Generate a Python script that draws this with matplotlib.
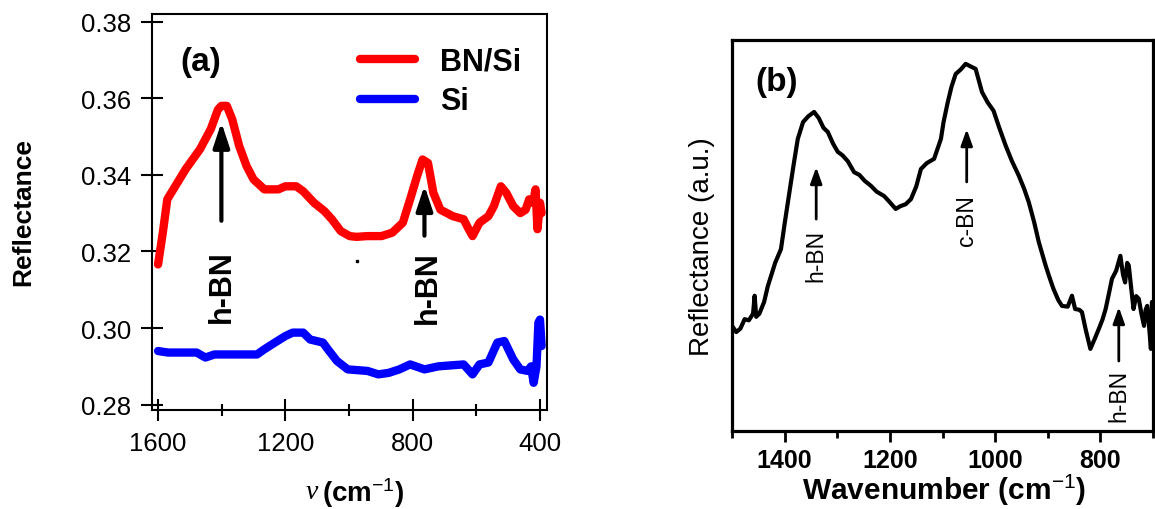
import matplotlib
matplotlib.use('Agg')
import matplotlib.pyplot as plt
from matplotlib.ticker import FixedLocator

plt.rcParams['font.family'] = ['Liberation Sans', 'DejaVu Sans']
plt.rcParams['mathtext.fontset'] = 'custom'
plt.rcParams['mathtext.rm'] = 'Liberation Sans'
plt.rcParams['mathtext.bf'] = 'Liberation Sans:bold'
plt.rcParams['mathtext.it'] = 'Liberation Sans:italic'

# ---------------- data panel (a) ----------------
bnsi_x = [1600, 1585, 1571, 1546, 1513, 1468, 1434, 1412, 1401, 1384, 1367, 1345,
          1322, 1300, 1266, 1222, 1200, 1166, 1144, 1110, 1077, 1054, 1026, 998,
          976, 942, 898, 864, 831, 808, 786, 769, 752, 735, 713, 674, 640, 629,
          612, 590, 562, 545, 523, 506, 484, 462, 445, 434, 422, 414, 408, 400, 395]
bnsi_y = [0.3166, 0.3249, 0.3336, 0.3370, 0.3415, 0.3467, 0.3520, 0.3570, 0.3580,
          0.3580, 0.3545, 0.3475, 0.3423, 0.3388, 0.3362, 0.3362, 0.3370, 0.3370,
          0.3357, 0.3327, 0.3305, 0.3284, 0.3253, 0.3240, 0.3238, 0.3240, 0.3240,
          0.3249, 0.3275, 0.3336, 0.3397, 0.3440, 0.3431, 0.3353, 0.3309, 0.3292,
          0.3284, 0.3266, 0.3240, 0.3275, 0.3292, 0.3318, 0.3370, 0.3353, 0.3318,
          0.3300, 0.3309, 0.3336, 0.3327, 0.3362, 0.3258, 0.3327, 0.3300]

si_x = [1600, 1569, 1479, 1451, 1423, 1289, 1267, 1233, 1200, 1177, 1144, 1122,
        1082, 1066, 1038, 1004, 942, 908, 875, 842, 808, 763, 719, 640, 612, 590,
        562, 534, 512, 484, 462, 439, 428, 420, 411, 405, 400, 395]
si_y = [0.2940, 0.2936, 0.2936, 0.2923, 0.2931, 0.2931, 0.2944, 0.2962, 0.2979,
        0.2988, 0.2988, 0.2970, 0.2962, 0.2944, 0.2914, 0.2892, 0.2888, 0.2879,
        0.2883, 0.2892, 0.2905, 0.2892, 0.2900, 0.2905, 0.2879, 0.2905, 0.2910,
        0.2962, 0.2966, 0.2918, 0.2892, 0.2888, 0.2900, 0.2857, 0.2900, 0.3014,
        0.3022, 0.2953]

stray_x = [976]
stray_y = [0.3175]

a_xticks = [1600, 1200, 800, 400]
a_xminor = [1400, 1000, 600]
a_yticks = [0.28, 0.30, 0.32, 0.34, 0.36, 0.38]
a_arrow_x = [1401, 763]
a_arrow_tail = [0.3280, 0.3241]
a_arrow_tip = [0.3537, 0.3372]
a_label_y = [0.3111, 0.3107]
a_label_x = [1401, 752]

# ---------------- data panel (b) ----------------
b_x = [1500, 1492, 1484, 1476, 1468, 1460, 1457, 1454, 1448, 1439, 1432, 1425,
       1418, 1407, 1400, 1392, 1383, 1375, 1365, 1355, 1344, 1335, 1326, 1318,
       1308, 1299, 1290, 1280, 1268, 1258, 1248, 1236, 1225, 1211, 1200, 1189,
       1180, 1170, 1160, 1150, 1141, 1130, 1116, 1103, 1098, 1090, 1083, 1075,
       1065, 1056, 1046, 1037, 1025, 1014, 1003, 992, 980, 968, 955, 945, 936,
       926, 917, 904, 896, 889, 880, 873, 862, 854, 848, 840, 835, 828, 819, 811,
       803, 796, 790, 784, 778, 770, 762, 757, 753, 749, 746, 741, 737, 732, 727,
       722, 717, 714, 711, 707, 704, 702, 700]
b_y = [0.269, 0.253, 0.262, 0.286, 0.283, 0.300, 0.346, 0.292, 0.300, 0.330,
       0.370, 0.400, 0.430, 0.465, 0.530, 0.601, 0.680, 0.747, 0.790, 0.805,
       0.816, 0.800, 0.775, 0.765, 0.735, 0.714, 0.705, 0.690, 0.662, 0.655,
       0.640, 0.627, 0.612, 0.601, 0.585, 0.568, 0.575, 0.580, 0.593, 0.625,
       0.670, 0.685, 0.696, 0.747, 0.790, 0.841, 0.880, 0.913, 0.925, 0.939,
       0.932, 0.926, 0.867, 0.840, 0.819, 0.775, 0.730, 0.690, 0.653, 0.620,
       0.585, 0.535, 0.483, 0.423, 0.390, 0.363, 0.335, 0.320, 0.318, 0.346,
       0.312, 0.310, 0.304, 0.260, 0.210, 0.235, 0.261, 0.285, 0.312, 0.350,
       0.389, 0.410, 0.448, 0.400, 0.380, 0.430, 0.423, 0.360, 0.312, 0.345,
       0.338, 0.300, 0.269, 0.310, 0.320, 0.260, 0.210, 0.330, 0.300]

b_xticks = [1400, 1200, 1000, 800]
b_xminor = [1500, 1300, 1100, 900, 700]
b_labels = ['h-BN', 'c-BN', 'h-BN']
b_label_x = [1340, 1054, 765]
b_label_y = [0.451, 0.540, 0.091]
b_arrow_tail = [0.542, 0.637, 0.179]
b_arrow_tip = [0.675, 0.772, 0.317]

# ---------------- figure ----------------
W, H = 1155, 510
fig = plt.figure(figsize=(W / 100, H / 100), dpi=100)


def box(l, t, r, b):
    return [l / W, 1 - b / H, (r - l) / W, (b - t) / H]


# ---- panel (a)
axA = fig.add_axes(box(152, 15.3, 547, 411))
axA.plot(bnsi_x, bnsi_y, color='#ff0000', lw=6, solid_capstyle='round',
         solid_joinstyle='round', label='BN/Si')
axA.plot(si_x, si_y, color='#0000ff', lw=6, solid_capstyle='round',
         solid_joinstyle='round', label='Si')
axA.plot(stray_x, stray_y, 's', color='black', ms=2.0)
axA.set_xlim(1619, 378)
axA.set_ylim(0.2786, 0.3819)
axA.xaxis.set_major_locator(FixedLocator(a_xticks))
axA.xaxis.set_minor_locator(FixedLocator(a_xminor))
axA.set_xticklabels([str(v) for v in a_xticks])
axA.yaxis.set_major_locator(FixedLocator(a_yticks))
axA.set_yticklabels(['%.2f' % v for v in a_yticks])
axA.tick_params(axis='both', which='major', direction='inout', length=16,
                width=1.5, labelsize=18.5, pad=7)
axA.tick_params(axis='x', which='minor', direction='inout', length=8, width=1.5)
for s in axA.spines.values():
    s.set_linewidth(1.5)

for xa, t0, t1 in zip(a_arrow_x, a_arrow_tail, a_arrow_tip):
    axA.annotate('', xy=(xa, t1), xytext=(xa, t0),
                 arrowprops=dict(arrowstyle='-|>,head_length=1.0,head_width=0.33',
                                 lw=3, color='black', mutation_scale=15,
                                 shrinkA=0, shrinkB=0))
for xl, yl in zip(a_label_x, a_label_y):
    axA.text(xl, yl, 'h-BN', rotation=90, ha='center', va='center',
             fontsize=22, fontweight='bold')

axA.text(0.072, 0.88, '(a)', transform=axA.transAxes, fontsize=24,
         fontweight='bold', ha='left', va='center')
leg = axA.legend(loc='upper right', bbox_to_anchor=(0.98, 0.965), frameon=False,
                 prop={'size': 22, 'weight': 'bold'}, handlelength=1.8,
                 handletextpad=0.8, labelspacing=0.32, borderaxespad=0.2)

fig.text(23 / W, 1 - 212 / H, 'Reflectance', rotation=90, ha='center',
         va='center', fontsize=19, fontweight='bold')
fig.text(318 / W, 1 - 493 / H, 'ν', ha='right', va='center', fontsize=20,
         family='Liberation Serif', style='italic')
fig.text(322 / W, 1 - 493 / H, '(cm$^{-1}$)', ha='left', va='center',
         fontsize=20, fontweight='bold')

# ---- panel (b)
axB = fig.add_axes(box(732, 41, 1153, 432))
axB.plot(b_x, b_y, color='black', lw=3, solid_joinstyle='round')
axB.set_xlim(1500, 700)
axB.set_ylim(0, 1)
axB.set_yticks([])
axB.xaxis.set_major_locator(FixedLocator(b_xticks))
axB.xaxis.set_minor_locator(FixedLocator(b_xminor))
axB.set_xticklabels([str(v) for v in b_xticks])
axB.tick_params(axis='x', which='major', direction='out', length=8, width=2,
                labelsize=18, pad=4)
axB.tick_params(axis='x', which='minor', direction='out', length=5, width=2)
for lab in axB.get_xticklabels():
    lab.set_fontweight('bold')
for s in axB.spines.values():
    s.set_linewidth(2.3)

for xl, yl, t0, t1, txt in zip(b_label_x, b_label_y, b_arrow_tail, b_arrow_tip,
                               b_labels):
    axB.annotate('', xy=(xl, t1), xytext=(xl, t0),
                 arrowprops=dict(arrowstyle='-|>,head_length=0.7,head_width=0.25',
                                 lw=2, color='black', mutation_scale=14,
                                 shrinkA=0, shrinkB=0))
    axB.text(xl, yl, txt, rotation=90, ha='center', va='center', fontsize=16.5)

axB.text(0.055, 0.895, '(b)', transform=axB.transAxes, fontsize=24,
         fontweight='bold', ha='left', va='center')

fig.text(702 / W, 1 - 247 / H, 'Reflectance (a.u.)', rotation=90, ha='center',
         va='center', fontsize=20)
fig.text(944 / W, 1 - 490 / H, 'Wavenumber (cm$^{-1}$)', ha='center',
         va='center', fontsize=21.5, fontweight='bold')

fig.savefig('out.png', dpi=100)
